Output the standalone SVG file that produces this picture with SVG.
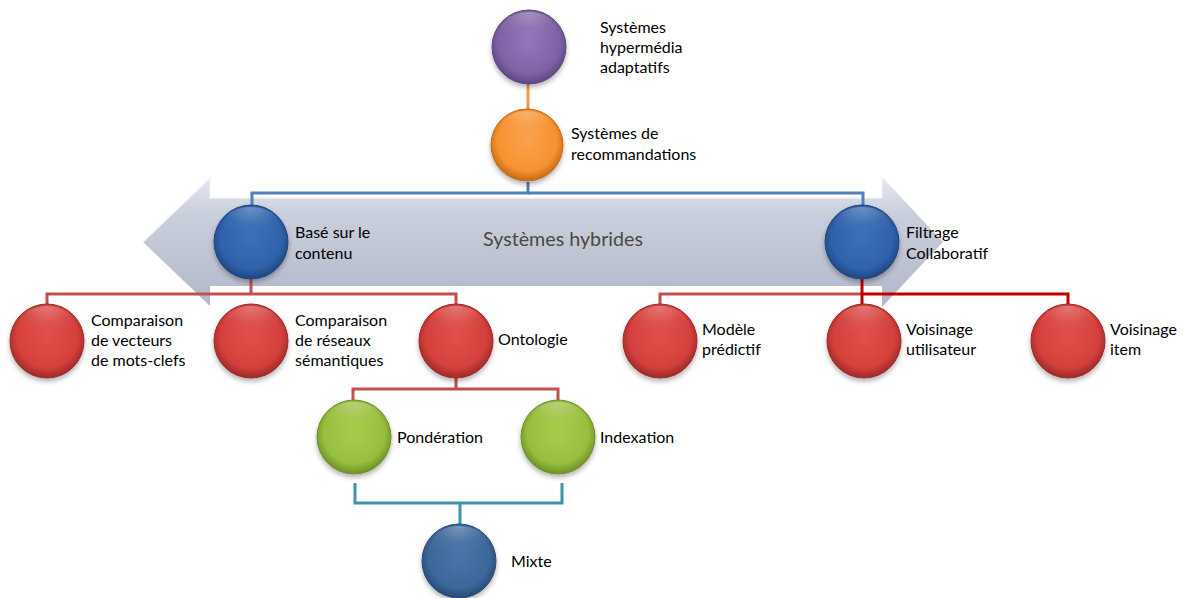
<svg xmlns="http://www.w3.org/2000/svg" width="1185" height="598" viewBox="0 0 1185 598">
<defs>
  <style>
    .lbl{font-family:Lato,"Liberation Sans",sans-serif;font-size:16px;fill:#000}
    .big{font-family:Lato,"Liberation Sans",sans-serif;font-size:19.7px;fill:#4a4a3c}
    .ln{fill:none;stroke-width:3}
    .rl{stroke:#c0504d}
    .rd{stroke:#c00000}
    .bl{stroke:#4f81bd}
    .tl{stroke:#3b94ad}
    .ol{stroke:#f79646}
  </style>
  <filter id="sh" x="-30%" y="-30%" width="160%" height="170%">
    <feDropShadow dx="0" dy="3" stdDeviation="2.5" flood-color="#000" flood-opacity="0.3"/>
  </filter>
  <linearGradient id="arr" x1="0" y1="0" x2="0" y2="1">
    <stop offset="0" stop-color="#e3e6ee"/>
    <stop offset="0.28" stop-color="#c6cbd9"/>
    <stop offset="1" stop-color="#aab1c5"/>
  </linearGradient>
  <radialGradient id="hl" cx="50%" cy="0%" r="80%">
    <stop offset="0" stop-color="#fff" stop-opacity="0.3"/>
    <stop offset="0.6" stop-color="#fff" stop-opacity="0.05"/>
    <stop offset="1" stop-color="#fff" stop-opacity="0"/>
  </radialGradient>
  <radialGradient id="gP" cx="50%" cy="45%" r="55%"><stop offset="0" stop-color="#9376bb"/><stop offset="0.75" stop-color="#7f62a5"/><stop offset="1" stop-color="#5d4680"/></radialGradient>
  <radialGradient id="gO" cx="50%" cy="45%" r="55%"><stop offset="0" stop-color="#fba14e"/><stop offset="0.75" stop-color="#f7922f"/><stop offset="1" stop-color="#c46a15"/></radialGradient>
  <radialGradient id="gB" cx="50%" cy="45%" r="55%"><stop offset="0" stop-color="#3a71b9"/><stop offset="0.75" stop-color="#2f62aa"/><stop offset="1" stop-color="#1f4680"/></radialGradient>
  <radialGradient id="gR" cx="50%" cy="45%" r="55%"><stop offset="0" stop-color="#e24e4a"/><stop offset="0.75" stop-color="#d5403c"/><stop offset="1" stop-color="#9c2a28"/></radialGradient>
  <radialGradient id="gG" cx="50%" cy="45%" r="55%"><stop offset="0" stop-color="#a6cd4c"/><stop offset="0.75" stop-color="#98bf3d"/><stop offset="1" stop-color="#6e8f28"/></radialGradient>
  <radialGradient id="gM" cx="50%" cy="45%" r="55%"><stop offset="0" stop-color="#4875aa"/><stop offset="0.75" stop-color="#3c6799"/><stop offset="1" stop-color="#284a75"/></radialGradient>
</defs>

<g id="arrow-hybrides">
  <polygon points="143,242 210,178 210,198 882,198 882,177 943,242 882,307 882,286 210,286 210,306" fill="url(#arr)" opacity="0.92"/>
  <polyline points="143,242 210,178 210,198 882,198 882,177" fill="none" stroke="#f2f4f8" stroke-width="1.5" opacity="0.8"/>
  <text class="big" x="563" y="246" text-anchor="middle">Systèmes hybrides</text>
</g>

<g id="connectors">
  <line class="ln ol" x1="528" y1="84" x2="528" y2="110"/>
  <polyline class="ln bl" points="528,182 528,193 252,193 252,206"/>
  <polyline class="ln bl" points="528,193 863,193 863,206"/>
  <polyline class="ln rl" points="251,279 251,294"/>
  <polyline class="ln rl" points="47,304 47,294 456,294 456,304"/>
  <polyline class="ln rl" points="660,304 660,294 862,294"/>
  <polyline class="ln rd" points="862,279 862,304"/>
  <polyline class="ln rd" points="862,294 1068,294 1068,304"/>
  <polyline class="ln rl" points="456,378 456,389"/>
  <polyline class="ln rl" points="353,400 353,389 558,389 558,400"/>
  <polyline class="ln tl" points="355,483 355,503 562,503 562,483"/>
  <line class="ln tl" x1="460" y1="503" x2="460" y2="524"/>
</g>

<g id="n-hypermedia">
  <circle cx="529" cy="47" r="37" fill="url(#gP)" stroke="#5d4680" stroke-width="1" filter="url(#sh)"/>
  <ellipse cx="529" cy="30" rx="28" ry="18" fill="url(#hl)"/>
  <text class="lbl" x="600" y="33">Systèmes</text>
  <text class="lbl" x="600" y="53">hypermédia</text>
  <text class="lbl" x="600" y="73">adaptatifs</text>
</g>
<g id="n-recommandations">
  <circle cx="527" cy="145" r="36" fill="url(#gO)" stroke="#c46a15" stroke-width="1" filter="url(#sh)"/>
  <ellipse cx="527" cy="128" rx="27" ry="17" fill="url(#hl)"/>
  <text class="lbl" x="571" y="139">Systèmes de</text>
  <text class="lbl" x="571" y="160">recommandations</text>
</g>
<g id="n-contenu">
  <circle cx="251" cy="242" r="37" fill="url(#gB)" stroke="#1f4680" stroke-width="1" filter="url(#sh)"/>
  <ellipse cx="251" cy="225" rx="28" ry="18" fill="url(#hl)"/>
  <text class="lbl" x="295" y="238">Basé sur le</text>
  <text class="lbl" x="295" y="259">contenu</text>
</g>
<g id="n-collaboratif">
  <circle cx="862" cy="242" r="37" fill="url(#gB)" stroke="#1f4680" stroke-width="1" filter="url(#sh)"/>
  <ellipse cx="862" cy="225" rx="28" ry="18" fill="url(#hl)"/>
  <text class="lbl" x="906" y="238">Filtrage</text>
  <text class="lbl" x="906" y="259">Collaboratif</text>
</g>
<g id="n-vecteurs">
  <circle cx="47" cy="341" r="37" fill="url(#gR)" stroke="#9c2a28" stroke-width="1" filter="url(#sh)"/>
  <ellipse cx="47" cy="324" rx="28" ry="18" fill="url(#hl)"/>
  <text class="lbl" x="91" y="326">Comparaison</text>
  <text class="lbl" x="91" y="346">de vecteurs</text>
  <text class="lbl" x="91" y="366">de mots-clefs</text>
</g>
<g id="n-reseaux">
  <circle cx="251" cy="341" r="37" fill="url(#gR)" stroke="#9c2a28" stroke-width="1" filter="url(#sh)"/>
  <ellipse cx="251" cy="324" rx="28" ry="18" fill="url(#hl)"/>
  <text class="lbl" x="295" y="326">Comparaison</text>
  <text class="lbl" x="295" y="346">de réseaux</text>
  <text class="lbl" x="295" y="366">sémantiques</text>
</g>
<g id="n-ontologie">
  <circle cx="456" cy="341" r="37" fill="url(#gR)" stroke="#9c2a28" stroke-width="1" filter="url(#sh)"/>
  <ellipse cx="456" cy="324" rx="28" ry="18" fill="url(#hl)"/>
  <text class="lbl" x="498" y="345">Ontologie</text>
</g>
<g id="n-modele">
  <circle cx="660" cy="341" r="37" fill="url(#gR)" stroke="#9c2a28" stroke-width="1" filter="url(#sh)"/>
  <ellipse cx="660" cy="324" rx="28" ry="18" fill="url(#hl)"/>
  <text class="lbl" x="702" y="335">Modèle</text>
  <text class="lbl" x="702" y="355">prédictif</text>
</g>
<g id="n-vois-utilisateur">
  <circle cx="864" cy="341" r="37" fill="url(#gR)" stroke="#9c2a28" stroke-width="1" filter="url(#sh)"/>
  <ellipse cx="864" cy="324" rx="28" ry="18" fill="url(#hl)"/>
  <text class="lbl" x="906" y="335">Voisinage</text>
  <text class="lbl" x="906" y="355">utilisateur</text>
</g>
<g id="n-vois-item">
  <circle cx="1068" cy="341" r="37" fill="url(#gR)" stroke="#9c2a28" stroke-width="1" filter="url(#sh)"/>
  <ellipse cx="1068" cy="324" rx="28" ry="18" fill="url(#hl)"/>
  <text class="lbl" x="1110" y="335">Voisinage</text>
  <text class="lbl" x="1110" y="355">item</text>
</g>
<g id="n-ponderation">
  <circle cx="354" cy="437" r="37" fill="url(#gG)" stroke="#6e8f28" stroke-width="1" filter="url(#sh)"/>
  <ellipse cx="354" cy="420" rx="28" ry="18" fill="url(#hl)"/>
  <text class="lbl" x="397" y="443">Pondération</text>
</g>
<g id="n-indexation">
  <circle cx="558" cy="437" r="37" fill="url(#gG)" stroke="#6e8f28" stroke-width="1" filter="url(#sh)"/>
  <ellipse cx="558" cy="420" rx="28" ry="18" fill="url(#hl)"/>
  <text class="lbl" x="600" y="443">Indexation</text>
</g>
<g id="n-mixte">
  <circle cx="459" cy="561" r="37" fill="url(#gM)" stroke="#284a75" stroke-width="1" filter="url(#sh)"/>
  <ellipse cx="459" cy="544" rx="28" ry="18" fill="url(#hl)"/>
  <text class="lbl" x="511" y="567">Mixte</text>
</g>
</svg>
